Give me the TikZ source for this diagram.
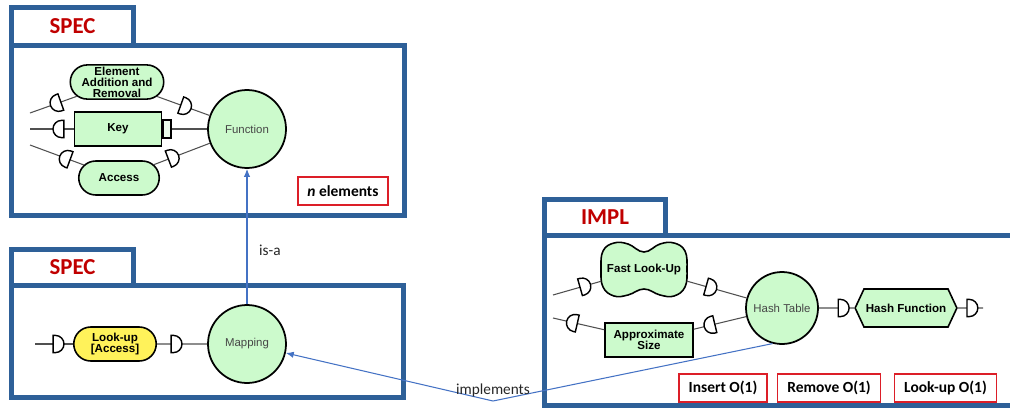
\documentclass[tikz,border=0pt]{standalone}
\usepackage{fontspec}
\newfontfamily\arialfont{Liberation Sans}
\newfontfamily\calibrifont{Carlito}
\usetikzlibrary{arrows.meta,calc,decorations.markings,shapes.misc,shapes.symbols,positioning}
\definecolor{panelblue}{RGB}{46,96,152}
\definecolor{specred}{RGB}{192,0,0}
\definecolor{boxred}{RGB}{220,30,40}
\definecolor{compgreen}{RGB}{204,250,204}
\definecolor{lookyellow}{RGB}{255,242,90}
\definecolor{linkblue}{RGB}{68,114,196}
\definecolor{wiregray}{RGB}{80,80,80}
\definecolor{conceptgray}{RGB}{70,70,70}

\tikzset{
  panel/.style={draw=panelblue, line width=2.8pt},
  tabtitle/.style={font=\calibrifont\bfseries\fontsize{13}{13}\selectfont, text=specred},
  comp/.style={draw=black, line width=0.9pt, fill=compgreen, align=center, inner sep=1pt,
    font=\arialfont\bfseries\fontsize{6.6}{6.3}\selectfont},
  pillbox/.style={comp, rounded rectangle, minimum width=#1, minimum height=0.68cm},
  squarebox/.style={comp, rectangle, minimum width=#1, minimum height=0.68cm},
  portbox/.style={draw=black, line width=0.9pt, fill=compgreen!40, minimum width=0.16cm,
    minimum height=0.36cm, inner sep=0pt},
  hexbox/.style={comp, signal, signal to=west and east, signal pointer angle=130,
    minimum width=1.76cm, minimum height=0.76cm},
  blobshape/.style={draw=black, line width=0.9pt, fill=compgreen},
  concept/.style={circle, draw=black, line width=1pt, fill=compgreen, minimum size=#1,
    inner sep=0pt, text=conceptgray, font=\arialfont\fontsize{6.5}{7}\selectfont},
  costbox/.style={draw=boxred, line width=0.9pt, minimum height=0.56cm, inner xsep=5.5pt,
    font=\calibrifont\bfseries\fontsize{8.8}{9}\selectfont},
  wire/.style={draw=wiregray, line width=0.6pt},
  plugshape/.style={draw=black, line width=0.8pt, fill=white},
  % D-shaped plug, round side pointing along the wire
  plugfwd/.style={postaction={decorate, decoration={markings, mark=at position #1 with
    {\path[plugshape] (-3.1pt,-4.9pt) -- (-1.8pt,-4.9pt)
       arc[start angle=-90, end angle=90, radius=4.9pt] -- (-3.1pt,4.9pt) -- cycle;}}}},
  % D-shaped plug, round side pointing back
  plugback/.style={postaction={decorate, decoration={markings, mark=at position #1 with
    {\path[plugshape] (3.1pt,-4.9pt) -- (1.8pt,-4.9pt)
       arc[start angle=270, end angle=90, radius=4.9pt] -- (3.1pt,4.9pt) -- cycle;}}}},
  link/.style={draw=linkblue, line width=0.6pt, -{Latex[length=4.5pt,width=3.6pt]}},
  linklabel/.style={font=\calibrifont\fontsize{8.7}{9}\selectfont, text=black!85}
}

\begin{document}
\begin{tikzpicture}[x=0.02cm, y=-0.02cm]
\useasboundingbox (0,0) rectangle (1010,409);
\clip (0,0) rectangle (1010,409);

%% ── TOP PANEL: SPEC (Function) ───────────────────────────────────────────
\begin{scope}
  \draw[panel] (11.5,7.5) rectangle (133.5,45.5);
  \draw[panel] (11.5,45.5) rectangle (404.5,215.5);
  \node[tabtitle] (spectop) at (72.5,26.5) {SPEC};

  \node[concept=1.56cm] (fn) at (247,129) {Function};
  \node[pillbox=1.7cm] (elem) at (117,82) {Element\\Addition and\\Removal};
  \node[squarebox=1.74cm] (key) at (118,129) {Key};
  \node[portbox, anchor=west] (keyport) at (key.east) {};
  \node[pillbox=1.68cm] (access) at (119,178) {Access};
  \node[costbox] (nelem) at (343,191) {\textit{n} elements};

  % free wire ends on the left
  \coordinate (in1) at (30,113);
  \coordinate (in2) at (30,129);
  \coordinate (in3) at (30,145);

  \draw[wire, plugback=0.55] (in1) -- (elem);
  \draw[wire, plugback=0.65] (in2) -- (key);
  \draw[wire, plugback=0.65] (in3) -- (access);
  \draw[wire, plugfwd=0.55] (elem) -- (fn);
  \draw[wire] (keyport) -- (fn);
  \draw[wire, plugfwd=0.35] (access) -- (fn);
\end{scope}

%% ── BOTTOM PANEL: SPEC (Mapping) ─────────────────────────────────────────
\begin{scope}
  \draw[panel] (11.5,249.5) rectangle (133.5,285.5);
  \draw[panel] (11.5,285.5) rectangle (403.5,397.5);
  \node[tabtitle] (specbottom) at (72.5,267) {SPEC};

  \node[concept=1.56cm] (map) at (247,344) {Mapping};
  \node[pillbox=1.72cm, fill=lookyellow] (lookup) at (115,344) {Look-up\\{[}Access{]}};

  \coordinate (in4) at (35,344);
  \draw[wire, plugfwd=0.62] (in4) -- (lookup);
  \draw[wire, plugfwd=0.39] (lookup) -- (map);
\end{scope}

%% ── RIGHT PANEL: IMPL (Hash Table) ───────────────────────────────────────
\begin{scope}
  \draw[panel] (544.5,199.5) rectangle (665.5,235.5);
  \draw[panel] (544.5,235.5) rectangle (1030,405.5);
  \node[tabtitle] (impl) at (605,217.5) {IMPL};

  \node[concept=1.44cm] (ht) at (782,308) {Hash Table};

  % peanut outline behind the Fast Look-Up text
  \draw[blobshape, shift={(644,269)}] plot[smooth cycle, tension=0.7] coordinates {
    (-43,0) (-41,-18) (-30,-26) (-16,-25) (0,-17) (16,-25) (30,-26) (41,-18)
    (43,0) (41,18) (30,27) (16,26) (0,20) (-16,26) (-30,27) (-41,18)};
  \node[font=\arialfont\bfseries\fontsize{6.6}{6.3}\selectfont, minimum width=1.7cm,
    minimum height=0.86cm, inner sep=0pt] (fast) at (644,269) {Fast Look-Up};
  \node[squarebox=1.76cm] (approx) at (649,340) {Approximate\\Size};
  \node[hexbox] (hf) at (906,308) {Hash Function};

  \coordinate (in5) at (553,295);
  \coordinate (in6) at (553,318);
  \coordinate (out1) at (983,308);

  \draw[wire, plugfwd=0.67] (in5) -- (fast);
  \draw[wire, plugback=0.37] (in6) -- (approx);
  \draw[wire, plugfwd=0.41] (fast) -- (ht);
  \draw[wire, plugback=0.3] (approx) -- (ht);
  \draw[wire, plugfwd=0.7] (ht) -- (hf);
  \draw[wire, plugfwd=0.58] (hf) -- (out1);

  \node[costbox] (insert) at (723,388) {Insert O(1)};
  \node[costbox] (remove) at (829,388) {Remove O(1)};
  \node[costbox] (lookcost) at (945.5,388) {Look-up O(1)};
\end{scope}

%% ── RELATIONS between the panels ─────────────────────────────────────────
\draw[link] (map) -- (fn);
\node[linklabel, anchor=base west] (isa) at (253,255) {is-a};

\coordinate (bend) at (493,401);
\draw[link] (ht.255) -- (bend) -- (map);
\node[linklabel, anchor=base] (implements) at ($(bend)+(0,-7)$) {implements};

\end{tikzpicture}
\end{document}
